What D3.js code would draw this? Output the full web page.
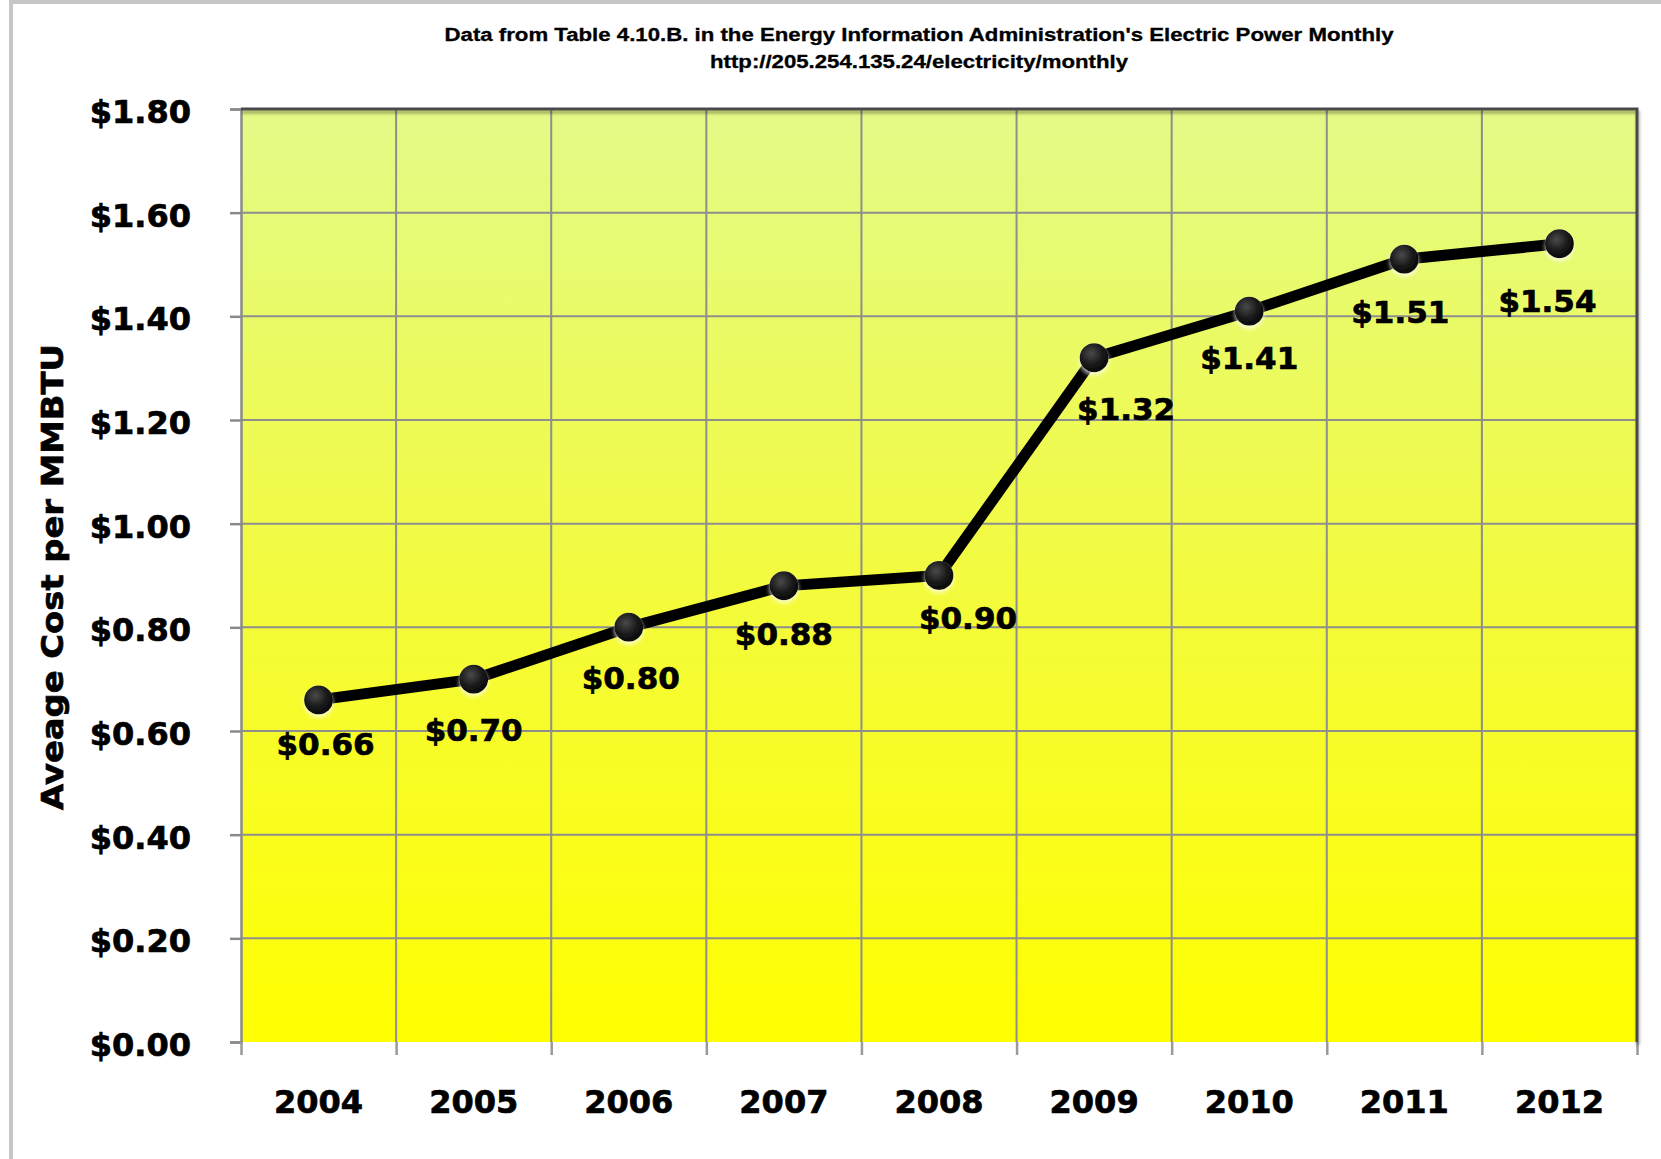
<!DOCTYPE html>
<html lang="en">
<head>
    <meta charset="UTF-8">
    <title>average cost per mmbtu</title>
    <script type="text/javascript" src="https://d3js.org/d3.v7.min.js"></script>
    <style>
        body { margin: 0; background: #fff; }
        svg { display: block; }
    </style>
</head>
<body>
<svg class="costchart"></svg>

<script type="text/javascript">

    const width = 1661;
    const height = 1159;

    // chart data
    const years = ["2004", "2005", "2006", "2007", "2008", "2009", "2010", "2011", "2012"];
    const costs = [0.66, 0.70, 0.80, 0.88, 0.90, 1.32, 1.41, 1.51, 1.54];
    const costLabels = ["$0.66", "$0.70", "$0.80", "$0.88", "$0.90", "$1.32", "$1.41", "$1.51", "$1.54"];
    const yTicks = [0, 0.2, 0.4, 0.6, 0.8, 1.0, 1.2, 1.4, 1.6, 1.8];
    const titleLines = [
        "Data from Table 4.10.B. in the Energy Information Administration's Electric Power Monthly",
        "http://205.254.135.24/electricity/monthly"
    ];
    const yTitle = "Aveage Cost per MMBTU";

    // label nudges (dx, dy) the original chart had hand placed
    const labelNudge = [[7, -5], [0, 2], [2, 2], [0, -1], [29, -7], [32, 2], [0, -2], [-4, 4], [-12, 8]];

    let margin = {left: 241, right: 24, top: 109, bottom: 117};

    let svg = d3.select(".costchart")
        .attr("width", width)
        .attr("height", height);

    let defs = svg.append("defs");

    let bg = defs.append("linearGradient")
        .attr("id", "bgGrad")
        .attr("x1", 0).attr("y1", 0).attr("x2", 0).attr("y2", 1);
    bg.append("stop").attr("offset", "0%").attr("stop-color", "#e3fa88");
    bg.append("stop").attr("offset", "55%").attr("stop-color", "#f4fb38");
    bg.append("stop").attr("offset", "100%").attr("stop-color", "#ffff00");

    let ball = defs.append("radialGradient")
        .attr("id", "ballGrad")
        .attr("cx", "40%").attr("cy", "35%").attr("r", "65%");
    ball.append("stop").attr("offset", "0%").attr("stop-color", "#4a4a4a");
    ball.append("stop").attr("offset", "60%").attr("stop-color", "#1a1a1a");
    ball.append("stop").attr("offset", "100%").attr("stop-color", "#080808");

    let glow = defs.append("filter").attr("id", "ballShadow")
        .attr("x", "-50%").attr("y", "-50%").attr("width", "200%").attr("height", "200%");
    glow.append("feDropShadow")
        .attr("dx", 0).attr("dy", 3).attr("stdDeviation", 2)
        .attr("flood-color", "#ffffff").attr("flood-opacity", 0.7);

    let edge = defs.append("filter").attr("id", "edgeShadow")
        .attr("x", "-5%").attr("y", "-5%").attr("width", "110%").attr("height", "110%");
    edge.append("feDropShadow")
        .attr("dx", 1).attr("dy", 3).attr("stdDeviation", 1.5)
        .attr("flood-color", "#000").attr("flood-opacity", 0.35);

    // outer frame
    svg.append("path")
        .attr("d", "M11,1159 L11,2 L1661,2")
        .attr("fill", "none")
        .attr("stroke", "#c6c6c6")
        .attr("stroke-width", 4);

    let plotW = width - margin.left - margin.right;
    let plotH = height - margin.top - margin.bottom;

    let x = d3.scaleBand()
        .domain(years)
        .range([margin.left, margin.left + plotW])
        .padding(0);

    let xEdge = d3.scaleLinear()
        .domain([0, years.length])
        .range([margin.left, margin.left + plotW]);

    let y = d3.scaleLinear()
        .domain([0, 1.8])
        .range([margin.top + plotH, margin.top]);

    // plot background
    svg.append("rect")
        .attr("x", margin.left)
        .attr("y", margin.top)
        .attr("width", plotW)
        .attr("height", plotH)
        .attr("fill", "url(#bgGrad)");

    // grid
    let grid = svg.append("g");
    grid.selectAll(".hgrid").data(yTicks.slice(1, -1)).enter().append("line")
        .attr("x1", margin.left).attr("x2", margin.left + plotW)
        .attr("y1", d => y(d)).attr("y2", d => y(d))
        .attr("stroke", "#8e8e8e").attr("stroke-width", 2);
    grid.selectAll(".vgrid").data(d3.range(1, years.length)).enter().append("line")
        .attr("x1", d => xEdge(d)).attr("x2", d => xEdge(d))
        .attr("y1", margin.top).attr("y2", margin.top + plotH)
        .attr("stroke", "#8e8e8e").attr("stroke-width", 2);

    let boldText = function (sel, size) {
        sel.attr("fill", "#000")
            .attr("stroke", "#000")
            .attr("stroke-width", 0.7)
            .style("font-family", "'DejaVu Sans', sans-serif")
            .style("font-weight", "bold")
            .style("font-size", size + "px");
    };

    // left axis
    let yAxis = svg.append("g")
        .attr("transform", "translate(" + margin.left + ",0)")
        .call(d3.axisLeft(y).tickValues(yTicks).tickSize(11).tickPadding(39)
            .tickFormat(d => "$" + d.toFixed(2)));
    yAxis.select(".domain").attr("stroke", "#8a8a8a").attr("stroke-width", 2.5);
    yAxis.selectAll(".tick line").attr("stroke", "#8a8a8a").attr("stroke-width", 2.5);
    yAxis.selectAll(".tick text").attr("dy", "0.42em").call(boldText, 32);

    // bottom axis: ticks at column edges
    let xTickAxis = svg.append("g")
        .attr("transform", "translate(0," + (margin.top + plotH) + ")")
        .call(d3.axisBottom(xEdge).tickValues(d3.range(0, years.length + 1)).tickSize(13).tickFormat(""));
    xTickAxis.select(".domain").remove();
    xTickAxis.selectAll(".tick line").attr("stroke", "#9a9a9a").attr("stroke-width", 2.5);

    let xAxis = svg.append("g")
        .attr("transform", "translate(0," + (margin.top + plotH) + ")")
        .call(d3.axisBottom(x).tickSize(0).tickPadding(48));
    xAxis.select(".domain").remove();
    xAxis.selectAll(".tick text").call(boldText, 32);

    // plot border (top, right, bottom)
    let x0 = margin.left, x1 = margin.left + plotW, y0 = margin.top, y1 = margin.top + plotH;
    svg.append("path")
        .attr("d", "M" + x0 + "," + y1 + " L" + x1 + "," + y1)
        .attr("stroke", "#7a7a7a").attr("stroke-width", 3).attr("fill", "none")
        .attr("filter", "url(#edgeShadow)");
    svg.append("path")
        .attr("d", "M" + x0 + "," + y0 + " L" + x1 + "," + y0 + " L" + x1 + "," + y1)
        .attr("stroke", "#4a4a4a").attr("stroke-width", 3).attr("fill", "none")
        .attr("filter", "url(#edgeShadow)");

    // series line
    let pts = years.map((yr, i) => ({year: yr, cost: costs[i], label: costLabels[i], i: i}));

    let line = d3.line()
        .x(d => x(d.year) + x.bandwidth() / 2)
        .y(d => y(d.cost));

    svg.append("path")
        .datum(pts)
        .attr("d", line)
        .attr("fill", "none")
        .attr("stroke", "#000")
        .attr("stroke-width", 11)
        .attr("stroke-linejoin", "round");

    svg.append("g").selectAll("circle").data(pts).enter().append("circle")
        .attr("cx", d => x(d.year) + x.bandwidth() / 2)
        .attr("cy", d => y(d.cost))
        .attr("r", 14.5)
        .attr("fill", "url(#ballGrad)")
        .attr("filter", "url(#ballShadow)");

    // value labels
    svg.append("g").selectAll("text").data(pts).enter().append("text")
        .attr("x", d => x(d.year) + x.bandwidth() / 2 + labelNudge[d.i][0])
        .attr("y", d => y(d.cost) + 60 + labelNudge[d.i][1])
        .attr("text-anchor", "middle")
        .call(boldText, 31)
        .text(d => d.label);

    // titles
    let titleY = [41, 68];
    let titleLen = [949, 418];
    svg.append("g").selectAll("text").data(titleLines).enter().append("text")
        .attr("x", 919)
        .attr("y", (d, i) => titleY[i])
        .attr("text-anchor", "middle")
        .attr("textLength", (d, i) => titleLen[i])
        .attr("lengthAdjust", "spacingAndGlyphs")
        .attr("stroke", "#000")
        .attr("stroke-width", 0.3)
        .style("font-family", "'Liberation Sans', Arial, sans-serif")
        .style("font-weight", "bold")
        .style("font-size", "18px")
        .text(d => d);

    svg.append("text")
        .attr("transform", "translate(63,577) rotate(-90)")
        .attr("text-anchor", "middle")
        .attr("textLength", 466)
        .attr("lengthAdjust", "spacingAndGlyphs")
        .call(boldText, 31)
        .text(yTitle);

</script>

</body>
</html>
